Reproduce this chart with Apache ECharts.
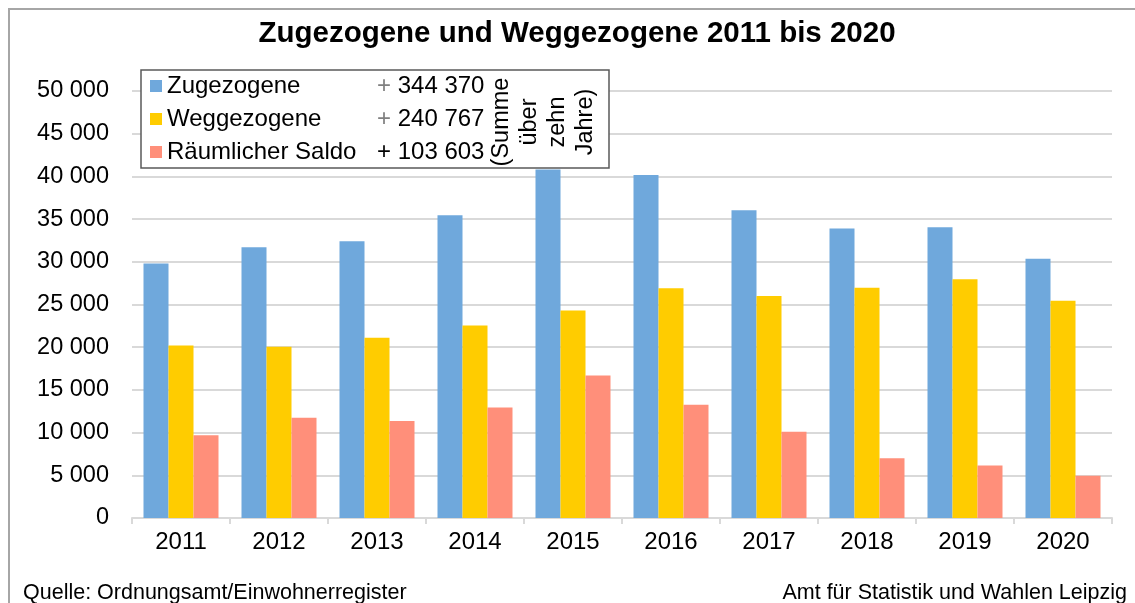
<!DOCTYPE html>
<html>
<head>
<meta charset="utf-8">
<title>Zugezogene und Weggezogene 2011 bis 2020</title>
<script src="https://cdn.jsdelivr.net/npm/echarts@6/dist/echarts.min.js"></script>
<style>
  html, body { margin: 0; padding: 0; background: #fff; }
  #chart { width: 1135px; height: 603px; }
</style>
</head>
<body>
<div id="chart"></div>
<script>
// values
const years = ['2011', '2012', '2013', '2014', '2015', '2016', '2017', '2018', '2019', '2020']
const zugezogene = [29800, 31700, 32400, 35450, 40800, 40150, 36050, 33900, 34050, 30350]
const weggezogene = [20200, 20050, 21100, 22550, 24300, 26900, 26000, 26950, 27950, 25450]
const saldo = [9700, 11750, 11350, 12950, 16700, 13250, 10100, 7000, 6150, 4950]

const seriesNames = ['Zugezogene', 'Weggezogene', 'Räumlicher Saldo']
const sumTotals = ['344 370', '240 767', '103 603']
const colors = ['#6fa8dc', '#ffcc00', '#ff8f7a']

const font = '"Liberation Sans", Arial, sans-serif'

const fmt = v => String(v).replace(/\B(?=(\d{3})+(?!\d))/g, ' ')

const chart = echarts.init(document.getElementById('chart'))

const makeBar = (name, data, color) => ({
  name,
  type: 'bar',
  data,
  barWidth: 25,
  barGap: '0%',
  itemStyle: { color },
  emphasis: { disabled: true },
})

// legend text pieces share the same look
const legendText = color => ({ fontSize: 24, lineHeight: 22, fontFamily: font, color })

chart.setOption({
  animation: false,
  color: colors,
  textStyle: { fontFamily: font },
  title: {
    text: 'Zugezogene und Weggezogene 2011 bis 2020',
    left: 572,
    top: 14,
    textAlign: 'center',
    textStyle: { fontFamily: font, fontSize: 29.5, fontWeight: 'bold', color: '#000' },
  },
  legend: {
    orient: 'vertical',
    left: 150,
    top: 74,
    padding: 0,
    itemGap: 9,
    itemWidth: 12,
    itemHeight: 12,
    icon: 'rect',
    z: 6,
    selectedMode: false,
    data: seriesNames,
    formatter: name => {
      const i = seriesNames.indexOf(name)
      const plus = i < 2 ? 'pg' : 'pb'
      return `{n|${name}}{${plus}|+}{v| ${sumTotals[i]}}`
    },
    textStyle: {
      fontFamily: font,
      fontSize: 24,
      lineHeight: 22,
      color: '#000',
      rich: {
        n: { width: 210, ...legendText('#000') },
        pg: legendText('#808080'),
        pb: legendText('#000'),
        v: legendText('#000'),
      },
    },
  },
  grid: {
    left: 132,
    right: 23,
    top: 91,
    bottom: 85,
  },
  xAxis: {
    type: 'category',
    data: years,
    axisLine: { lineStyle: { color: '#d9d9d9', width: 2 } },
    axisTick: { show: true, length: 6, lineStyle: { color: '#d9d9d9', width: 2 } },
    axisLabel: { color: '#000', fontSize: 24, fontFamily: font, margin: 12 },
  },
  yAxis: {
    type: 'value',
    min: 0,
    max: 50000,
    interval: 5000,
    axisLine: { show: false },
    axisTick: { show: false },
    splitLine: { lineStyle: { color: '#d9d9d9', width: 2 } },
    axisLabel: { color: '#000', fontSize: 23.5, fontFamily: font, margin: 23, formatter: fmt },
  },
  graphic: [
    {
      type: 'rect',
      z: 0,
      silent: true,
      shape: { x: 9, y: 9, width: 1200, height: 700 },
      style: { fill: 'none', stroke: '#a6a6a6', lineWidth: 2 },
    },
    {
      type: 'rect',
      z: 4,
      silent: true,
      shape: { x: 141, y: 70, width: 468, height: 98 },
      style: { fill: '#fff', stroke: '#595959', lineWidth: 1.5 },
    },
    {
      type: 'text',
      z: 6,
      silent: true,
      x: 544,
      y: 122,
      rotation: Math.PI / 2,
      style: {
        text: '(Summe\nüber\nzehn\nJahre)',
        font: '23.5px ' + font,
        fill: '#000',
        textAlign: 'center',
        textVerticalAlign: 'middle',
        lineHeight: 28,
      },
    },
    {
      type: 'text',
      silent: true,
      left: 23,
      top: 582,
      style: { text: 'Quelle: Ordnungsamt/Einwohnerregister', font: '21.5px ' + font, fill: '#000' },
    },
    {
      type: 'text',
      silent: true,
      right: 8,
      top: 582,
      style: { text: 'Amt für Statistik und Wahlen Leipzig', font: '21.5px ' + font, fill: '#000' },
    },
  ],
  series: [
    makeBar(seriesNames[0], zugezogene, colors[0]),
    makeBar(seriesNames[1], weggezogene, colors[1]),
    makeBar(seriesNames[2], saldo, colors[2]),
  ],
})

window.addEventListener('resize', () => chart.resize())
</script>
</body>
</html>
